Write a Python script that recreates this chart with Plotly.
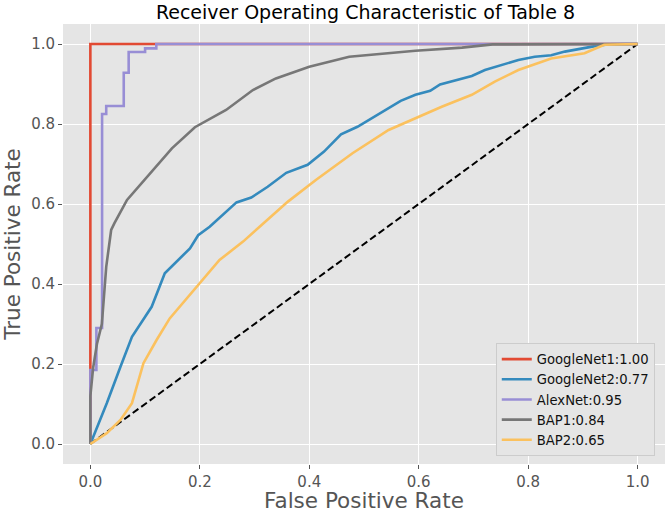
import plotly.graph_objects as go

# ---- data ----
names = ["GoogleNet1:1.00", "GoogleNet2:0.77", "AlexNet:0.95", "BAP1:0.84", "BAP2:0.65"]
colors = ["#E24A33", "#348ABD", "#988ED5", "#777777", "#FBC15E"]

gn1_fpr = [0.0, 0.0, 1.0]
gn1_tpr = [0.0, 1.0, 1.0]

gn2_fpr = [0.0, 0.03, 0.055, 0.076, 0.112, 0.136, 0.182, 0.197, 0.218, 0.245, 0.267, 0.294,
           0.324, 0.358, 0.397, 0.427, 0.458, 0.488, 0.518, 0.545, 0.567, 0.594, 0.621, 0.639,
           0.667, 0.697, 0.721, 0.752, 0.782, 0.812, 0.842, 0.867, 0.897, 0.927, 0.945, 1.0]
gn2_tpr = [0.0, 0.102, 0.193, 0.268, 0.343, 0.427, 0.489, 0.522, 0.543, 0.577, 0.604, 0.616,
           0.643, 0.678, 0.698, 0.731, 0.774, 0.793, 0.818, 0.839, 0.858, 0.873, 0.883, 0.899,
           0.91, 0.92, 0.935, 0.948, 0.96, 0.968, 0.972, 0.981, 0.989, 0.996, 0.999, 1.0]

alex_fpr = [0.0, 0.0, 0.011, 0.011, 0.0214, 0.0214, 0.029, 0.029, 0.061, 0.061, 0.070, 0.070,
            0.100, 0.100, 0.1205, 0.1205, 1.0]
alex_tpr = [0.0, 0.185, 0.185, 0.29, 0.29, 0.825, 0.825, 0.845, 0.845, 0.928, 0.928, 0.98,
            0.98, 0.989, 0.989, 1.0, 1.0]

bap1_fpr = [0.0, 0.0, 0.005, 0.012, 0.021, 0.029, 0.038, 0.044, 0.067, 0.109, 0.149, 0.191,
            0.248, 0.297, 0.339, 0.40, 0.473, 0.594, 0.679, 0.735, 1.0]
bap1_tpr = [0.0, 0.12, 0.19, 0.25, 0.30, 0.443, 0.535, 0.552, 0.61, 0.677, 0.739, 0.792,
            0.835, 0.885, 0.914, 0.943, 0.968, 0.983, 0.991, 0.999, 1.0]

bap2_fpr = [0.0, 0.03, 0.055, 0.076, 0.097, 0.121, 0.145, 0.194, 0.236, 0.279, 0.327, 0.361,
            0.412, 0.479, 0.545, 0.594, 0.642, 0.697, 0.739, 0.782, 0.842, 0.903, 0.939, 1.0]
bap2_tpr = [0.0, 0.027, 0.06, 0.102, 0.202, 0.26, 0.314, 0.393, 0.46, 0.506, 0.564, 0.606,
            0.66, 0.727, 0.785, 0.814, 0.843, 0.873, 0.906, 0.935, 0.964, 0.977, 0.998, 1.0]

diag = [0.0, 1.0]
tick_vals = [0.0, 0.2, 0.4, 0.6, 0.8, 1.0]
tick_text = ["0.0", "0.2", "0.4", "0.6", "0.8", "1.0"]

curves = [(gn1_fpr, gn1_tpr), (gn2_fpr, gn2_tpr), (alex_fpr, alex_tpr),
          (bap1_fpr, bap1_tpr), (bap2_fpr, bap2_tpr)]

FONT = "DejaVu Sans"
fig = go.Figure()
fig.add_trace(go.Scatter(x=diag, y=diag, mode="lines", showlegend=False,
                         line=dict(color="black", width=2, dash="7px,3.5px")))
for (fx, ty), nm, c in zip(curves, names, colors):
    fig.add_trace(go.Scatter(x=fx, y=ty, mode="lines", name=nm,
                             line=dict(color=c, width=2.6)))

axis_common = dict(
    showgrid=True, gridcolor="white", gridwidth=1, zeroline=False,
    ticks="outside", ticklen=4, tickcolor="#555555", tickwidth=1,
    tickfont=dict(family=FONT, size=15, color="#555555"),
    tickvals=tick_vals, ticktext=tick_text, showline=False,
)
fig.update_xaxes(range=[-0.05, 1.05], title=dict(text="False Positive Rate", standoff=7,
                 font=dict(family=FONT, size=21.5, color="#555555")), **axis_common)
fig.update_yaxes(range=[-0.05, 1.05], title=dict(text="True Positive Rate", standoff=6,
                 font=dict(family=FONT, size=21.5, color="#555555")), **axis_common)

fig.update_layout(
    width=666, height=513,
    margin=dict(l=63, r=1, t=24, b=49, autoexpand=False),
    paper_bgcolor="white", plot_bgcolor="#E5E5E5",
    font=dict(family=FONT),
    title=dict(text="Receiver Operating Characteristic of Table 8", x=0.5487, xanchor="center",
               y=0.988, yanchor="top", yref="container",
               font=dict(family=FONT, size=19, color="black")),
    legend=dict(x=0.983, y=0.018, xanchor="right", yanchor="bottom",
                bgcolor="#E5E5E5", bordercolor="#CCCCCC", borderwidth=1,
                font=dict(family=FONT, size=13.2, color="#111111"),
                tracegroupgap=0, itemwidth=30),
)

fig.write_html("out.html", config={"displayModeBar": False},
               post_script="document.body.style.margin='0';document.body.style.overflow='hidden';")
